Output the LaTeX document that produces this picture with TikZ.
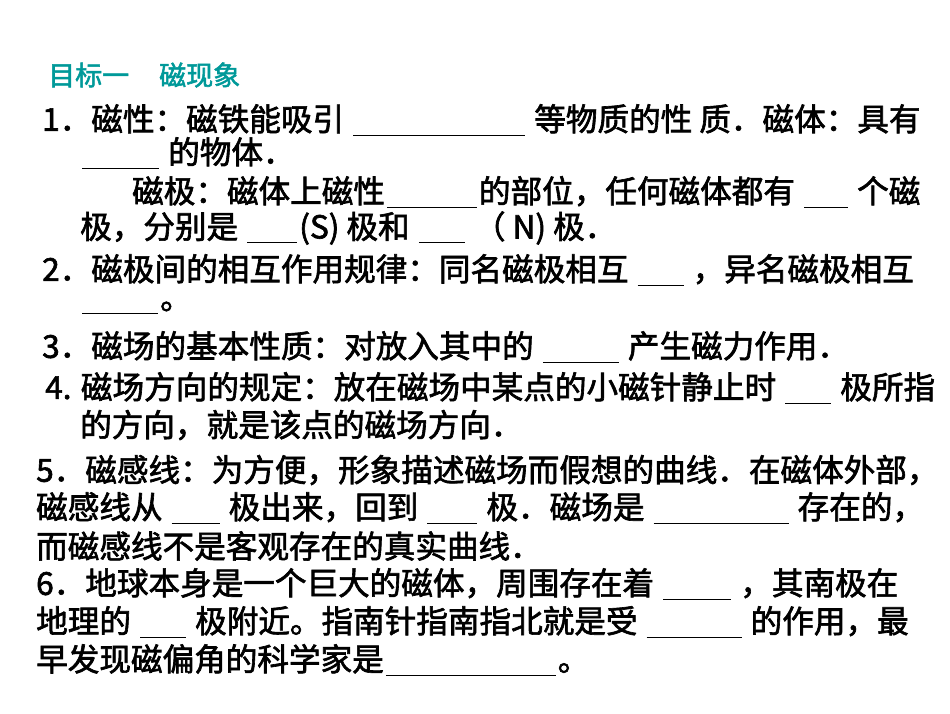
\documentclass[tikz,border=0pt]{standalone}
\usepackage{fontspec}
\setmainfont[FakeBold=2]{Noto Sans CJK SC}
\definecolor{teal1}{RGB}{0,153,153}
\newcommand{\blank}[1]{\hspace{2pt}\rule[-5pt]{#1pt}{1.2pt}\hspace{2pt}}
\begin{document}
\begin{tikzpicture}[x=1pt,y=-1pt,
  ln/.style={anchor=west,inner sep=0pt,font=\fontsize{31.6}{33}\selectfont}]
\useasboundingbox (0,0) rectangle (950,713);
\node[ln,text=teal1,font=\fontsize{27}{28}\selectfont] (t) at (48,75) {目标一\hspace{30pt}磁现象};
\node[ln] (l1) at (42,120) {1．磁性：磁铁能吸引 \blank{172} 等物质的性 质．磁体：具有};
\node[ln] (l2) at (80,153) {\blank{77} 的物体．};
\node[ln] (l3) at (132,192) {磁极：磁体上磁性\blank{90}的部位，任何磁体都有 \blank{44} 个磁};
\node[ln] (l4) at (80,228) {极，分别是 \blank{50}(S) 极和 \blank{46} （ N) 极．};
\node[ln] (l5) at (42,270) {2．磁极间的相互作用规律：同名磁极相互 \blank{46} ，异名磁极相互};
\node[ln] (l6) at (80,308) {\blank{76}。};
\node[ln] (l7) at (42,347) {3．磁场的基本性质：对放入其中的 \blank{76} 产生磁力作用．};
\node[ln] (l8) at (45,388) {4. 磁场方向的规定：放在磁场中某点的小磁针静止时 \blank{46} 极所指};
\node[ln] (l9) at (80,425) {的方向，就是该点的磁场方向．};
\node[ln] (l10) at (36,470) {5．磁感线：为方便，形象描述磁场而假想的曲线．在磁体外部，};
\node[ln] (l11) at (36,508) {磁感线从 \blank{48} 极出来，回到 \blank{50} 极．磁场是 \blank{135} 存在的，};
\node[ln] (l12) at (36,546) {而磁感线不是客观存在的真实曲线．};
\node[ln] (l13) at (36,584) {6．地球本身是一个巨大的磁体，周围存在着 \blank{68} ，其南极在};
\node[ln] (l14) at (36,622) {地理的 \blank{46} 极附近。指南针指南指北就是受 \blank{95} 的作用，最};
\node[ln] (l15) at (36,660) {早发现磁偏角的科学家是\blank{170}。};
\end{tikzpicture}
\end{document}
